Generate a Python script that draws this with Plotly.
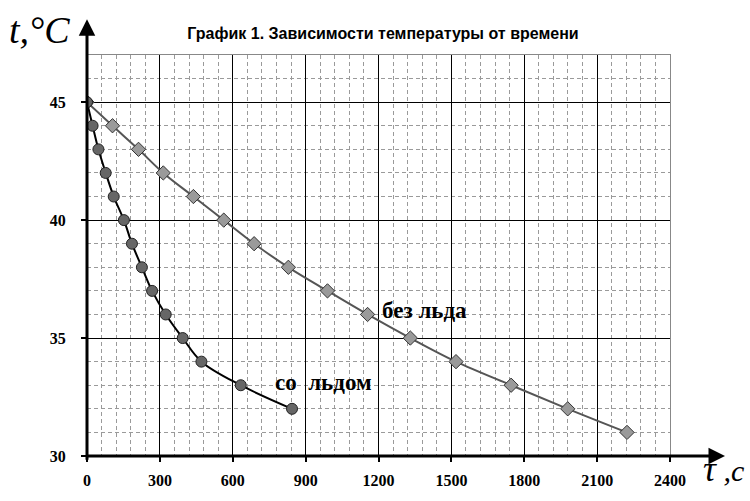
import plotly.graph_objects as go

# Data
time_no_ice = [0, 105, 212, 314, 438, 563, 688, 829, 990, 1155, 1331, 1519, 1746, 1979, 2223]
temp_no_ice = [45, 44, 43, 42, 41, 40, 39, 38, 37, 36, 35, 34, 33, 32, 31]

time_ice = [0, 23, 47, 77, 110, 152, 185, 226, 268, 324, 394, 471, 633, 844]
temp_ice = [45, 44, 43, 42, 41, 40, 39, 38, 37, 36, 35, 34, 33, 32]

x_ticks = [0, 300, 600, 900, 1200, 1500, 1800, 2100, 2400]
y_ticks = [30, 35, 40, 45]

title_text = "График 1. Зависимости температуры от времени"
label_no_ice = "без льда"
label_ice = "со\u00a0 льдом"
y_title = "t,°C"
x_title_tau = "τ"
x_title_rest = " ,c"

W, H = 750, 501
ML, MR, MT, MB = 87, 80, 55, 42
PW = W - ML - MR
PH = H - MT - MB

fig = go.Figure()
fig.add_trace(go.Scatter(
    x=time_no_ice, y=temp_no_ice, mode="lines+markers",
    line=dict(color="#555555", width=2, shape="spline"),
    marker=dict(symbol="diamond", size=11, color="#9a9a9a",
                line=dict(color="#333333", width=1)),
    showlegend=False))
fig.add_trace(go.Scatter(
    x=time_ice, y=temp_ice, mode="lines+markers",
    line=dict(color="#000000", width=2, shape="spline"),
    marker=dict(symbol="circle", size=11, color="#666666",
                line=dict(color="#222222", width=1)),
    showlegend=False))

serif = "Liberation Serif"

fig.update_layout(
    width=W, height=H,
    margin=dict(l=ML, r=MR, t=MT, b=MB),
    paper_bgcolor="white", plot_bgcolor="white",
    title=dict(text="<b>" + title_text + "</b>", x=383 / W, xanchor="center",
               y=1 - 33 / H, yanchor="middle",
               font=dict(family="Liberation Sans", size=16, color="black")),
    xaxis=dict(range=[0, 2400], tickvals=x_ticks, ticktext=[f"<b>{v}</b>" for v in x_ticks],
               showgrid=True, gridcolor="black", gridwidth=1,
               minor=dict(dtick=60, tick0=0, showgrid=True, gridcolor="#9a9a9a",
                          griddash="4px,3px", gridwidth=1),
               showline=True, mirror=True, linecolor="#888888", linewidth=1,
               ticks="outside", ticklen=5, tickwidth=2, tickcolor="black",
               ticklabelstandoff=5,
               tickfont=dict(family=serif, size=16, color="black"),
               zeroline=False, fixedrange=True),
    yaxis=dict(range=[30, 47], tickvals=y_ticks, ticktext=[f"<b>{v}</b>" for v in y_ticks],
               showgrid=True, gridcolor="black", gridwidth=1,
               minor=dict(dtick=1, tick0=30, showgrid=True, gridcolor="#9a9a9a",
                          griddash="4px,3px", gridwidth=1),
               showline=True, mirror=True, linecolor="#888888", linewidth=1,
               ticks="outside", ticklen=5, tickwidth=2, tickcolor="black",
               ticklabelstandoff=12,
               tickfont=dict(family=serif, size=16, color="black"),
               zeroline=False, fixedrange=True),
)

# Thick axis arrows
fig.add_annotation(x=0, xref="x", y=(H - MB - 19) / PH, yref="paper",
                   ax=0, ay=(H - MB - 19) + 2, axref="pixel", ayref="pixel",
                   text="", showarrow=True, arrowhead=2, arrowsize=1.1,
                   arrowwidth=3, arrowcolor="black")
fig.add_annotation(x=(725 - ML) / PW, xref="paper", y=30, yref="y",
                   ax=-(725 - ML) - 2, ay=0, text="", showarrow=True,
                   arrowhead=2, arrowsize=1.1, arrowwidth=3, arrowcolor="black")

# Axis titles
fig.add_annotation(x=(39 - ML) / PW, xref="paper", y=(H - MB - 30) / PH, yref="paper",
                   text="<i>" + y_title + "</i>", showarrow=False,
                   font=dict(family=serif, size=38, color="black"),
                   xanchor="center", yanchor="middle")
fig.add_annotation(x=(723 - ML) / PW, xref="paper", y=(H - MB - 472) / PH, yref="paper",
                   text="<i><span style='font-size:36px'>" + x_title_tau + "</span>"
                        + x_title_rest + "</i>", showarrow=False,
                   font=dict(family=serif, size=30, color="black"),
                   xanchor="center", yanchor="middle")

# Series labels
fig.add_annotation(x=1391, y=36.15, text="<b>" + label_no_ice + "</b>", showarrow=False,
                   font=dict(family=serif, size=23, color="black"),
                   xanchor="center", yanchor="middle")
fig.add_annotation(x=972, y=33.1, text="<b>" + label_ice + "</b>", showarrow=False,
                   font=dict(family=serif, size=23, color="black"),
                   xanchor="center", yanchor="middle")

fig.write_html("out.html", config={"displayModeBar": False},
               post_script="document.body.style.margin='0';")
